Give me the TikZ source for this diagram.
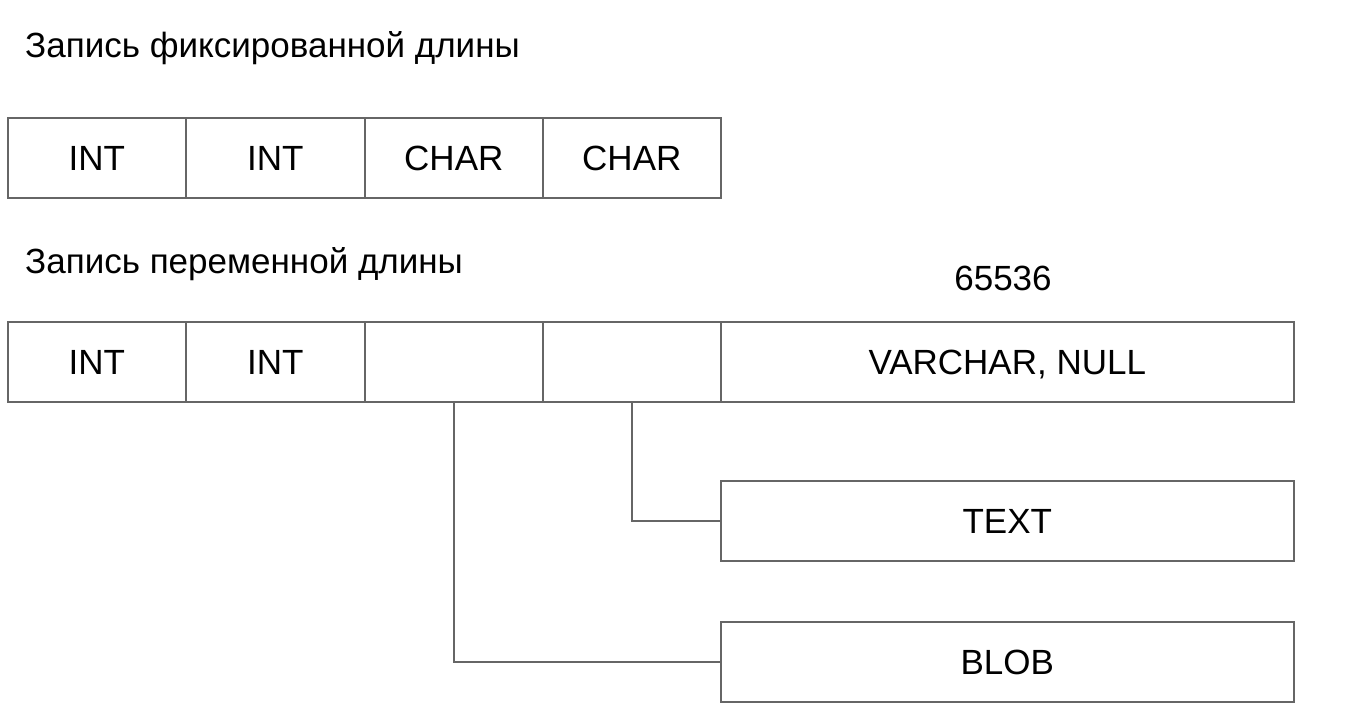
\documentclass[tikz,border=0pt]{standalone}
\usepackage{fontspec}
\setmainfont{Liberation Sans}
\begin{document}
\begin{tikzpicture}[x=1pt,y=-1pt,
  cell/.style={draw=black!60, line width=1.6pt, minimum height=80pt, inner sep=0pt, anchor=north west, text height=26pt, text depth=0pt, font=\fontsize{35}{40}\selectfont},
  lbl/.style={inner sep=0pt, font=\fontsize{35}{40}\selectfont},
  conn/.style={draw=black!60, line width=1.6pt}]
\useasboundingbox (0,0) rectangle (1350,719);
\fill[white] (0,0) rectangle (1350,719);
\node[lbl, anchor=base west] (t1) at (25,58) {Запись фиксированной длины};
\node[cell, minimum width=178pt] (a1) at (7,117) {INT};
\node[cell, minimum width=179pt] (a2) at (185,117) {INT};
\node[cell, minimum width=178pt] (a3) at (364,117) {CHAR};
\node[cell, minimum width=178pt] (a4) at (542,117) {CHAR};
\node[lbl, anchor=base west] (t2) at (25,274) {Запись переменной длины};
\node[lbl, anchor=base] (n) at (1003,291) {65536};
\node[cell, minimum width=178pt] (b1) at (7,321) {INT};
\node[cell, minimum width=179pt] (b2) at (185,321) {INT};
\node[cell, minimum width=178pt] (b3) at (364,321) {};
\node[cell, minimum width=178pt] (b4) at (542,321) {};
\node[cell, minimum width=573pt] (b5) at (720,321) {VARCHAR, NULL};
\node[cell, minimum width=573pt] (tx) at (720,480) {TEXT};
\node[cell, minimum width=573pt] (bl) at (720,621) {BLOB};
\draw[conn] (b4.south) |- (tx.west);
\draw[conn] (b3.south) |- (bl.west);
\end{tikzpicture}
\end{document}
